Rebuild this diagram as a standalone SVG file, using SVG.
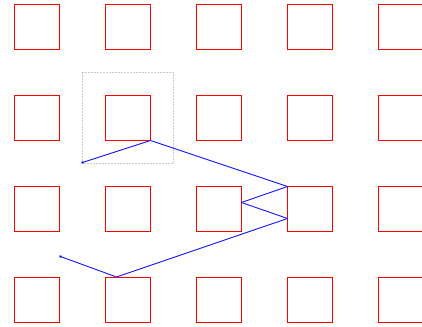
<svg xmlns="http://www.w3.org/2000/svg" width="422" height="327" viewBox="0 0 422 327">
<style>
.n{fill:none;stroke:#ff0000;stroke-width:1}
.sel{fill:none;stroke:#999999;stroke-width:1;stroke-dasharray:1,2}
.c{fill:none;stroke:#0000ff;stroke-width:1;stroke-linejoin:miter;stroke-linecap:square}
.e{fill:#0000ff;stroke:none}
</style>
<rect width="422" height="327" fill="#ffffff"/>
<g id="r0c0"><rect class="n" x="14.5" y="4.5" width="45" height="45"/></g>
<g id="r0c1"><rect class="n" x="105.5" y="4.5" width="45" height="45"/></g>
<g id="r0c2"><rect class="n" x="196.5" y="4.5" width="45" height="45"/></g>
<g id="r0c3"><rect class="n" x="287.5" y="4.5" width="45" height="45"/></g>
<g id="r0c4"><rect class="n" x="378.5" y="4.5" width="45" height="45"/></g>
<g id="r1c0"><rect class="n" x="14.5" y="95.5" width="45" height="45"/></g>
<g id="r1c1"><rect class="n" x="105.5" y="95.5" width="45" height="45"/></g>
<g id="r1c2"><rect class="n" x="196.5" y="95.5" width="45" height="45"/></g>
<g id="r1c3"><rect class="n" x="287.5" y="95.5" width="45" height="45"/></g>
<g id="r1c4"><rect class="n" x="378.5" y="95.5" width="45" height="45"/></g>
<g id="r2c0"><rect class="n" x="14.5" y="186.5" width="45" height="45"/></g>
<g id="r2c1"><rect class="n" x="105.5" y="186.5" width="45" height="45"/></g>
<g id="r2c2"><rect class="n" x="196.5" y="186.5" width="45" height="45"/></g>
<g id="r2c3"><rect class="n" x="287.5" y="186.5" width="45" height="45"/></g>
<g id="r2c4"><rect class="n" x="378.5" y="186.5" width="45" height="45"/></g>
<g id="r3c0"><rect class="n" x="14.5" y="277.5" width="45" height="45"/></g>
<g id="r3c1"><rect class="n" x="105.5" y="277.5" width="45" height="45"/></g>
<g id="r3c2"><rect class="n" x="196.5" y="277.5" width="45" height="45"/></g>
<g id="r3c3"><rect class="n" x="287.5" y="277.5" width="45" height="45"/></g>
<g id="r3c4"><rect class="n" x="378.5" y="277.5" width="45" height="45"/></g>
<g id="selection"><rect class="sel" x="82.5" y="72.5" width="91" height="91"/></g>
<g id="connectors">
<polyline class="c" points="82.5,162.5 150.5,140.5 287.5,186.5 241.5,202.5 287.5,218.5 116.5,277 60.5,256.5"/>
<rect class="e" x="81.5" y="161.5" width="2" height="2"/>
<rect class="e" x="59.5" y="255.5" width="2" height="2"/>
</g>
</svg>
